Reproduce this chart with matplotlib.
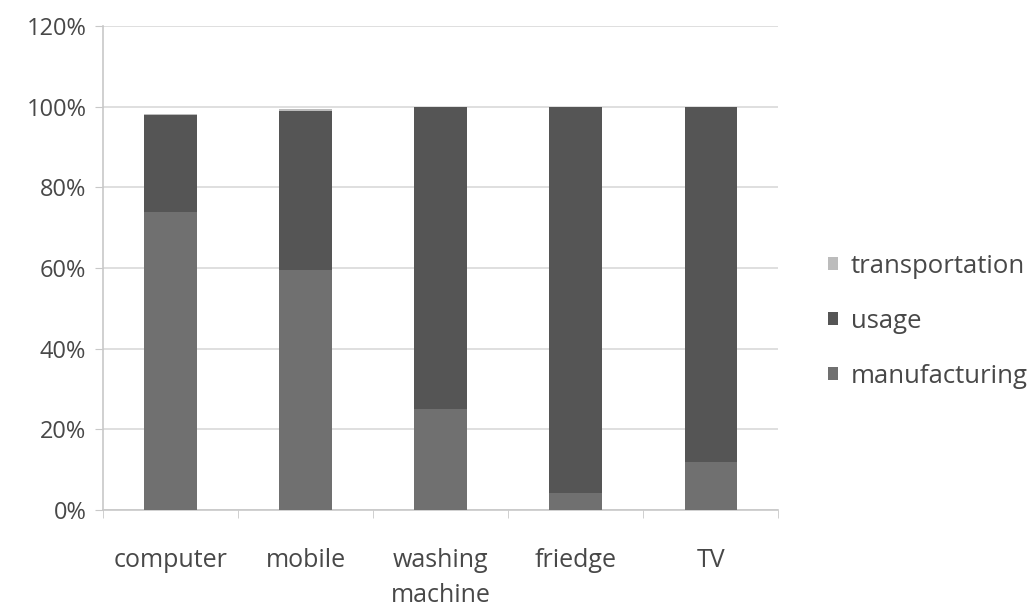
import numpy as np
import matplotlib
matplotlib.use("Agg")
import matplotlib.pyplot as plt
from matplotlib.ticker import FuncFormatter

categories = ["computer", "mobile", "washing\nmachine", "friedge", "TV"]
manufacturing = [74, 59.5, 25, 4.3, 12]
usage = [24, 39.5, 75, 95.7, 88]
transportation = [0.3, 0.5, 0, 0, 0]

c_man = "#707070"
c_use = "#555555"
c_tra = "#bcbcbc"
axis_col = "#c8c8c8"

matplotlib.rcParams["font.family"] = ["Open Sans", "DejaVu Sans"]

fig = plt.figure(figsize=(10.32, 6.06), dpi=100)
ax = fig.add_axes([0.0998, 0.1584, 0.6545, 0.7987])

x = np.arange(len(categories))
w = 0.39
b1 = ax.bar(x, manufacturing, w, color=c_man, label="manufacturing", zorder=3)
b2 = ax.bar(x, usage, w, bottom=manufacturing, color=c_use, label="usage", zorder=3)
bottom2 = np.array(manufacturing) + np.array(usage)
b3 = ax.bar(x, transportation, w, bottom=bottom2, color=c_tra, label="transportation", zorder=3)

ax.set_xlim(-0.5, len(categories) - 0.5)
ax.set_ylim(0, 120)
ax.set_yticks(np.arange(0, 121, 20))
ax.yaxis.set_major_formatter(FuncFormatter(lambda v, p: f"{int(v)}%"))
ax.grid(axis="y", color="#d9d9d9", linewidth=1.2, zorder=0)

ax.set_xticks(x)
ax.set_xticklabels(categories, fontsize=18, color="#484848", linespacing=1.55)
ax.set_xticks(np.arange(-0.5, len(categories)), minor=True)
ax.tick_params(axis="x", which="major", length=0, pad=27)
ax.tick_params(axis="x", which="minor", length=6, color=axis_col, direction="out")
ax.tick_params(axis="y", length=6, color=axis_col, labelsize=17, labelcolor="#484848", pad=6)

for s in ["top", "right"]:
    ax.spines[s].set_visible(False)
for s in ["left", "bottom"]:
    ax.spines[s].set_color(axis_col)
    ax.spines[s].set_linewidth(1.2)

leg = ax.legend(handles=[b3, b2, b1], loc="center left", bbox_to_anchor=(1.039, 0.39),
                frameon=False, fontsize=18.5, handlelength=0.4, handleheight=0.4,
                handletextpad=0.5, labelspacing=1.17, labelcolor="#484848")

fig.savefig("out.png", dpi=100)
